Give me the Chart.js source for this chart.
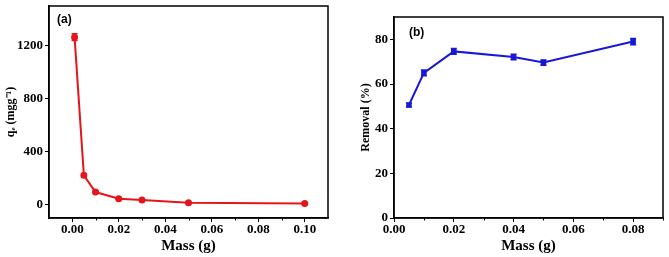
<!DOCTYPE html>
<html>
<head>
<meta charset="utf-8">
<script src="https://cdn.jsdelivr.net/npm/chart.js@4.4.0/dist/chart.umd.min.js"></script>
<style>
  body { margin: 0; background: #fff; }
  #wrap { width: 669px; height: 257px; position: relative; }
  .box { position: absolute; top: 0; height: 257px; }
</style>
</head>
<body>
<div id="wrap">
  <div class="box" style="left:0;width:335px"><canvas id="graficoA" width="335" height="257"></canvas></div>
  <div class="box" style="left:335px;width:334px"><canvas id="graficoB" width="334" height="257"></canvas></div>
</div>
<script>
// dados do painel (a)
var massA = [0.001, 0.005, 0.01, 0.02, 0.03, 0.05, 0.10];
var qeA = [1265, 222, 96, 46, 36, 15, 9];
var qeErrA = [25, 8, 6, 5, 5, 4, 4];
var xTicksA = [0.00, 0.01, 0.02, 0.03, 0.04, 0.05, 0.06, 0.07, 0.08, 0.09, 0.10];
var yTicksA = [0, 400, 800, 1200];

// dados do painel (b)
var massB = [0.005, 0.01, 0.02, 0.04, 0.05, 0.08];
var removalB = [50.6, 65, 74.6, 72.1, 69.6, 79];
var removalErrB = [0.8, 1.3, 1.3, 1.2, 1.2, 1.4];
var xTicksB = [0.00, 0.01, 0.02, 0.03, 0.04, 0.05, 0.06, 0.07, 0.08, 0.09];
var yTicksB = [0, 20, 40, 60, 80];

var serif = "'Liberation Serif', 'Times New Roman', serif";

function ehMenor(v) {
  return Math.round(v * 100) % 2 === 1;
}

// desenha barras de erro, moldura e ticks menores
function pluginExtras(erros, cor, rotulo, rx, ry) {
  return {
    id: 'extras',
    afterDatasetsDraw: function (chart) {
      var ctx = chart.ctx;
      var xs = chart.scales.x, ys = chart.scales.y;
      var pontos = chart.data.datasets[0].data;
      ctx.save();
      ctx.strokeStyle = cor;
      ctx.lineWidth = 1.5;
      pontos.forEach(function (p, i) {
        var px = xs.getPixelForValue(p.x);
        var y1 = ys.getPixelForValue(p.y + erros[i]);
        var y2 = ys.getPixelForValue(p.y - erros[i]);
        ctx.beginPath();
        ctx.moveTo(px, y1); ctx.lineTo(px, y2);
        ctx.moveTo(px - 3, y1); ctx.lineTo(px + 3, y1);
        ctx.moveTo(px - 3, y2); ctx.lineTo(px + 3, y2);
        ctx.stroke();
      });
      ctx.restore();
    },
    afterDraw: function (chart) {
      var ctx = chart.ctx;
      var a = chart.chartArea;
      ctx.save();
      ctx.strokeStyle = '#000';
      ctx.lineWidth = 1.5;
      ctx.strokeRect(a.left, a.top, a.right - a.left, a.bottom - a.top);
      // ticks menores do eixo x
      var xs = chart.scales.x;
      ctx.lineWidth = 1;
      xs.ticks.forEach(function (t) {
        if (ehMenor(t.value)) {
          var px = Math.round(xs.getPixelForValue(t.value)) + 0.5;
          ctx.beginPath();
          ctx.moveTo(px, a.bottom); ctx.lineTo(px, a.bottom + 2.5);
          ctx.stroke();
        }
      });
      ctx.fillStyle = '#000';
      ctx.font = "bold 12px 'Liberation Sans', Arial, sans-serif";
      ctx.textBaseline = 'middle';
      ctx.fillText(rotulo, a.left + rx, a.top + ry);
      ctx.restore();
    }
  };
}

function opcoesEixoX(min, max, ticks, altura) {
  return {
    type: 'linear',
    min: min,
    max: max,
    afterBuildTicks: function (s) { s.ticks = ticks.map(function (v) { return { value: v }; }); },
    afterFit: function (s) { s.height = altura; s.paddingLeft = 0; s.paddingRight = 0; },
    border: { color: '#000', width: 1.5 },
    grid: { drawOnChartArea: false, color: '#000', tickLength: 4, tickColor: function (c) { return ehMenor(c.tick.value) ? 'rgba(0,0,0,0)' : '#000'; } },
    ticks: {
      color: '#000',
      padding: 0,
      maxRotation: 0,
      autoSkip: false,
      font: { family: serif, weight: 'bold', size: 13 },
      callback: function (v) { return ehMenor(v) ? '' : v.toFixed(2); }
    },
    title: { display: true, text: 'Mass (g)', color: '#000', padding: { top: 2, bottom: 2 }, font: { family: serif, weight: 'bold', size: 15 } }
  };
}

function opcoesEixoY(min, max, ticks, largura, titulo) {
  return {
    min: min,
    max: max,
    afterBuildTicks: function (s) { s.ticks = ticks.map(function (v) { return { value: v }; }); },
    afterFit: function (s) { s.width = largura; s.paddingTop = 0; s.paddingBottom = 0; },
    border: { color: '#000', width: 1.5 },
    grid: { drawOnChartArea: false, color: '#000', tickLength: 4 },
    ticks: { color: '#000', padding: 2, font: { family: serif, weight: 'bold', size: 13 }, callback: function (v) { return String(v); } },
    title: { display: true, text: titulo, color: '#000', padding: { top: 0, bottom: 4 }, font: { family: serif, weight: 'bold', size: 12 } }
  };
}

var vermelho = 'rgb(228,22,26)';
var azul = 'rgb(24,24,214)';

new Chart(document.getElementById('graficoA').getContext('2d'), {
  type: 'line',
  data: {
    datasets: [{
      data: massA.map(function (m, i) { return { x: m, y: qeA[i] }; }),
      borderColor: vermelho,
      backgroundColor: vermelho,
      borderWidth: 2,
      pointStyle: 'circle',
      pointRadius: 2.5,
      fill: false,
      tension: 0
    }]
  },
  options: {
    responsive: false,
    animation: false,
    devicePixelRatio: 1,
    layout: { padding: { top: 3, right: 7, left: 4, bottom: 0 } },
    plugins: { legend: { display: false }, tooltip: { enabled: false } },
    scales: {
      x: opcoesEixoX(-0.01, 0.11, xTicksA, 39),
      y: opcoesEixoY(-100, 1500, yTicksA, 45, 'q\u2091 (mgg\u207B\u00B9)')
    }
  },
  plugins: [pluginExtras(qeErrA, vermelho, '(a)', 8, 14)]
});

new Chart(document.getElementById('graficoB').getContext('2d'), {
  type: 'line',
  data: {
    datasets: [{
      data: massB.map(function (m, i) { return { x: m, y: removalB[i] }; }),
      borderColor: azul,
      backgroundColor: azul,
      borderWidth: 2,
      pointStyle: 'rect',
      pointRadius: 2.5,
      fill: false,
      tension: 0
    }]
  },
  options: {
    responsive: false,
    animation: false,
    devicePixelRatio: 1,
    layout: { padding: { top: 17, right: 2, left: 24, bottom: 0 } },
    plugins: { legend: { display: false }, tooltip: { enabled: false } },
    scales: {
      x: opcoesEixoX(0, 0.09, xTicksB, 39),
      y: opcoesEixoY(0, 90, yTicksB, 35, 'Removal (%)')
    }
  },
  plugins: [pluginExtras(removalErrB, azul, '(b)', 15, 16)]
});
</script>
</body>
</html>
